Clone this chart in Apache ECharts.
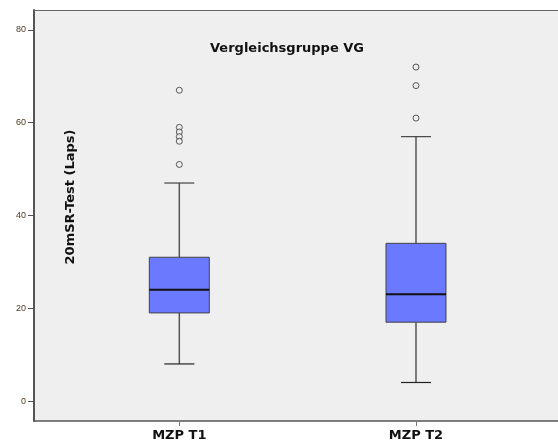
<!DOCTYPE html>
<html>
<head>
<meta charset="utf-8">
<script src="https://cdn.jsdelivr.net/npm/echarts@6/dist/echarts.min.js"></script>
<style>html,body{margin:0;padding:0;background:#fff}#c{width:558px;height:445px}</style>
</head>
<body>
<div id="c"></div>
<script>
const categories = ['MZP T1', 'MZP T2'];
const positions = [1, 2];
const whiskerLow = [8, 4];
const q1 = [19, 17];
const median = [24, 23];
const q3 = [31, 34];
const whiskerHigh = [47, 57];
const outliersT1 = [67, 59, 58, 57, 56, 51];
const outliersT2 = [72, 68, 61];
const yTicks = [0, 20, 40, 60, 80];

const boxData = categories.map((c, i) => [positions[i], whiskerLow[i], q1[i], median[i], q3[i], whiskerHigh[i]]);
const outlierData = [];
outliersT1.forEach(v => outlierData.push([positions[0], v]));
outliersT2.forEach(v => outlierData.push([positions[1], v]));

const chart = echarts.init(document.getElementById('c'), null, {renderer: 'canvas'});
const BOXW = 60, CAPW = 30;
chart.setOption({
  animation: false,
  backgroundColor: '#ffffff',
  title: {
    text: 'Vergleichsgruppe VG',
    left: 282, top: 37, textAlign: 'center',
    textStyle: {fontFamily: 'DejaVu Sans', fontWeight: 'bold', fontSize: 13, color: '#111'}
  },
  graphic: [{
    type: 'text', x: 71, y: 197, rotation: Math.PI / 2,
    style: {text: '20mSR-Test (Laps)', fontFamily: 'DejaVu Sans', fontWeight: 'bold', fontSize: 13,
            fill: '#111', textAlign: 'center', textVerticalAlign: 'middle'}
  }],
  grid: {left: 34, right: 0, top: 10, bottom: 24, show: true, backgroundColor: '#efefef',
         borderWidth: 0},
  xAxis: [{
    type: 'value', min: 0.386, max: 2.6,
    splitLine: {show: false},
    axisLine: {show: true, onZero: false, lineStyle: {color: '#555', width: 1.5}},
    axisTick: {show: true, customValues: positions, length: 5, lineStyle: {color: '#777'}},
    axisLabel: {customValues: positions, formatter: v => categories[positions.indexOf(v)] || '',
                fontFamily: 'DejaVu Sans', fontWeight: 'bold', fontSize: 13, color: '#111', margin: 8}
  }, {
    type: 'value', position: 'top', min: 0.386, max: 2.6,
    splitLine: {show: false},
    axisLine: {show: true, onZero: false, lineStyle: {color: '#666', width: 1.2}},
    axisTick: {show: false}, axisLabel: {show: false}
  }],
  yAxis: {
    type: 'value', min: -4.3, max: 84.3,
    splitLine: {show: false},
    axisLine: {show: true, onZero: false, lineStyle: {color: '#555', width: 2}},
    axisTick: {show: true, customValues: yTicks, length: 6, lineStyle: {color: '#555'}},
    axisLabel: {customValues: yTicks, fontFamily: 'Liberation Sans', fontSize: 9, color: '#4a3a20', margin: 8}
  },
  series: [{
    type: 'custom',
    data: boxData,
    renderItem: function (params, api) {
      const x = api.value(0);
      const pLo = api.coord([x, api.value(1)]);
      const p1 = api.coord([x, api.value(2)]);
      const pm = api.coord([x, api.value(3)]);
      const p3 = api.coord([x, api.value(4)]);
      const pHi = api.coord([x, api.value(5)]);
      const cx = p1[0];
      const wl = {stroke: '#555', lineWidth: 1.5};
      return {
        type: 'group',
        children: [
          {type: 'line', shape: {x1: cx, y1: pHi[1], x2: cx, y2: p3[1]}, style: wl},
          {type: 'line', shape: {x1: cx, y1: p1[1], x2: cx, y2: pLo[1]}, style: wl},
          {type: 'line', shape: {x1: cx - CAPW / 2, y1: pHi[1], x2: cx + CAPW / 2, y2: pHi[1]}, style: {stroke: '#444', lineWidth: 1.2}},
          {type: 'line', shape: {x1: cx - CAPW / 2, y1: pLo[1], x2: cx + CAPW / 2, y2: pLo[1]}, style: {stroke: '#222', lineWidth: 1.2}},
          {type: 'rect', shape: {x: cx - BOXW / 2, y: p3[1], width: BOXW, height: p1[1] - p3[1]},
           style: {fill: '#6b79fe', stroke: '#444', lineWidth: 1}},
          {type: 'line', shape: {x1: cx - BOXW / 2, y1: pm[1], x2: cx + BOXW / 2, y2: pm[1]}, style: {stroke: '#111', lineWidth: 2}}
        ]
      };
    }
  }, {
    type: 'scatter',
    data: outlierData,
    symbol: 'circle',
    symbolSize: 6,
    itemStyle: {color: '#efefef', borderColor: '#333', borderWidth: 1}
  }]
});
</script>
</body>
</html>
